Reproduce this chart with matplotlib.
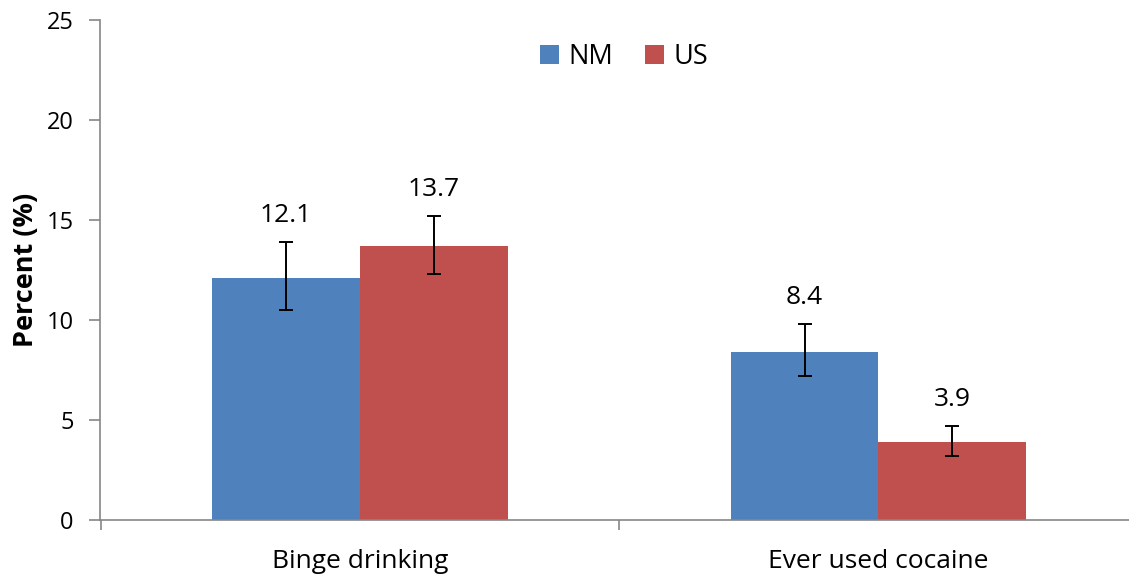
import numpy as np
import matplotlib.pyplot as plt

categories = ['Binge drinking', 'Ever used cocaine']
nm_values = [12.1, 8.4]
us_values = [13.7, 3.9]
nm_low = [10.5, 7.2]
nm_high = [13.9, 9.8]
us_low = [12.3, 3.2]
us_high = [15.2, 4.7]

plt.rcParams['font.family'] = ['Open Sans', 'DejaVu Sans']

fig = plt.figure(figsize=(11.29, 5.77), dpi=100)
ax = fig.add_axes([100 / 1129, 57 / 577, 1029 / 1129, 500 / 577])

x = np.arange(len(categories))
w = 0.285
grey = '#868686'

nm_err = [np.array(nm_values) - np.array(nm_low), np.array(nm_high) - np.array(nm_values)]
us_err = [np.array(us_values) - np.array(us_low), np.array(us_high) - np.array(us_values)]

ax.bar(x - w / 2, nm_values, w, color='#4F81BD', label='NM',
       yerr=nm_err, error_kw=dict(ecolor='black', elinewidth=1.4, capsize=5, capthick=1.4))
ax.bar(x + w / 2, us_values, w, color='#C0504D', label='US',
       yerr=us_err, error_kw=dict(ecolor='black', elinewidth=1.4, capsize=5, capthick=1.4))

# value labels sit above the error bar caps
for xs, vals, highs in [(x - w / 2, nm_values, nm_high), (x + w / 2, us_values, us_high)]:
    for xi, v, h in zip(xs, vals, highs):
        ax.annotate(f'{v:.1f}', (xi, h), xytext=(0, 14.5), textcoords='offset points',
                    ha='center', va='baseline', fontsize=19)

ax.set_yticks([0, 5, 10, 15, 20, 25])
ax.set_xticks([-0.5, 0.5])
ax.set_xticklabels([])
ax.set_xticks(x, minor=True)
ax.set_xticklabels(categories, minor=True)
ax.set_xlim(-0.5014, -0.5014 + 1029 / 518.5)
ax.set_ylim(0, 25)
ax.tick_params(axis='x', which='minor', length=0, labelsize=19, pad=21)
ax.tick_params(axis='x', which='major', length=7, color=grey, width=1.2)
ax.tick_params(axis='y', length=8, color=grey, width=1.2, labelsize=17, pad=11)

for s in ['top', 'right']:
    ax.spines[s].set_visible(False)
for s in ['left', 'bottom']:
    ax.spines[s].set_color(grey)
    ax.spines[s].set_linewidth(1.2)

ax.set_ylabel('Percent (%)', fontsize=19.5, fontweight='bold')
ax.yaxis.set_label_coords(-61 / 1029, 0.5)

fig.legend(loc='center', bbox_to_anchor=(624 / 1129, 1 - 57 / 577), ncol=2, frameon=False,
           fontsize=19.5, handlelength=0.68, handleheight=0.68, columnspacing=1.2, handletextpad=0.35)

fig.savefig('out.png', dpi=100)
